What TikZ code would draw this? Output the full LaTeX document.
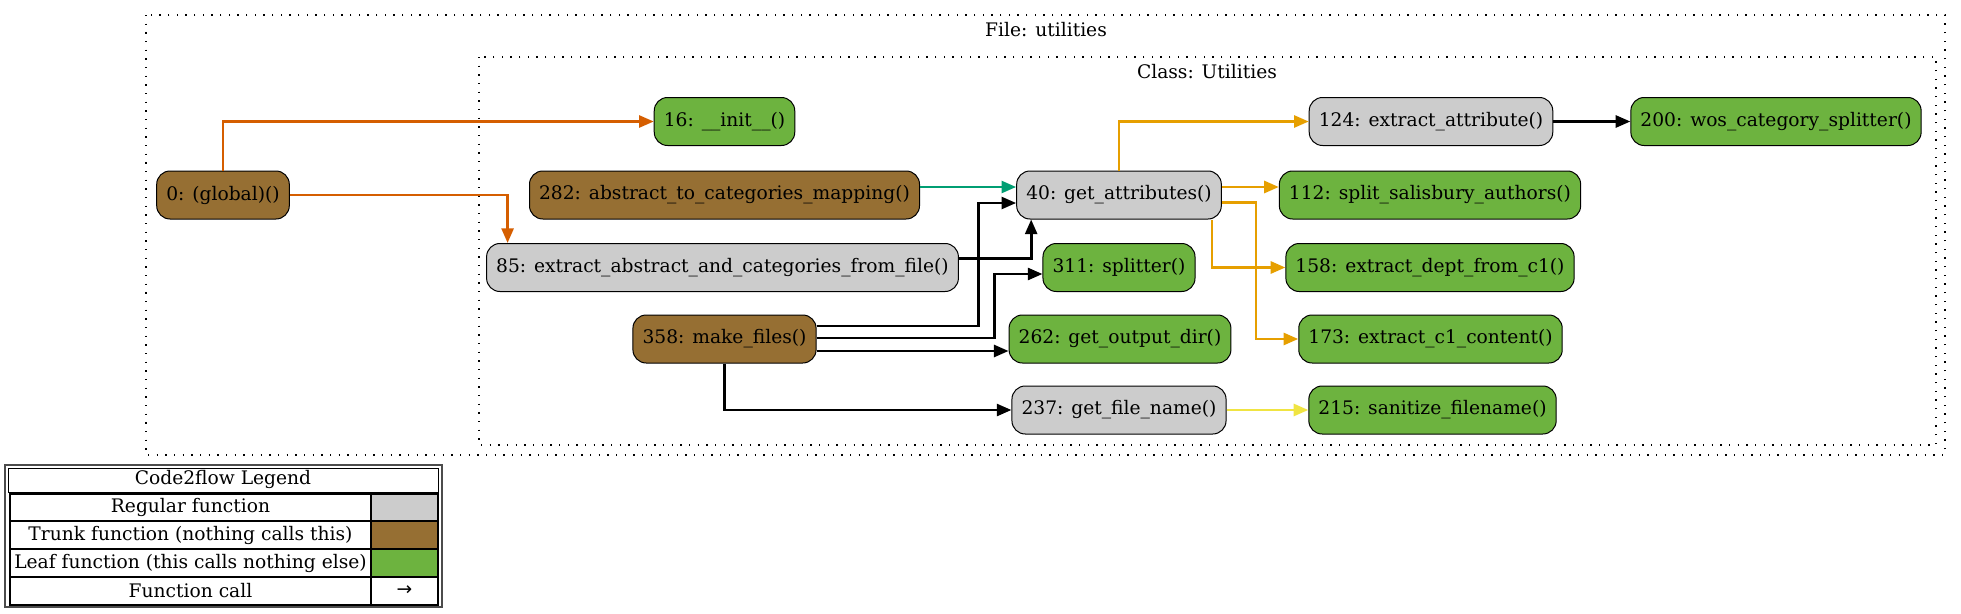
\documentclass[tikz,border=0pt]{standalone}
\usepackage{xcolor}
\usepackage{fontspec}
\setmainfont{DejaVu Serif}
\newfontfamily\arrowfont{DejaVu Sans}
\usepackage{tikz}
\usetikzlibrary{calc, arrows.meta}

\definecolor{regular}{HTML}{CCCCCC}
\definecolor{trunk}{HTML}{966F33}
\definecolor{leaf}{HTML}{6DB33F}
\definecolor{cOrange}{HTML}{D55E00}
\definecolor{cAmber}{HTML}{E69F00}
\definecolor{cGreen}{HTML}{009E73}
\definecolor{cYellow}{HTML}{F0E442}

\begin{document}
\begin{tikzpicture}[x=0.75pt, y=-0.75pt,
    font=\fontsize{14}{17}\selectfont,
    fn/.style={draw, line width=0.75pt, rounded corners=10pt, minimum height=36pt, inner xsep=7.2pt, inner ysep=0pt},
    reg/.style={fn, fill=regular},
    trk/.style={fn, fill=trunk},
    lf/.style={fn, fill=leaf},
    call/.style={line width=2pt, -{Triangle[length=11pt, width=9pt]}},
    cluster/.style={line width=1pt, dash pattern=on 1pt off 5.5pt}]
      \useasboundingbox (0,0) rectangle (1961,614);

      \draw[cluster] (146,15) rectangle (1945,455);
      \node (fl) at (1046,30) {File: utilities};
      \draw[cluster] (479,57) rectangle (1936,445);
      \node (cl) at (1207,72) {Class: Utilities};

      \node[trk] (G) at (223,195) {0: (global)()};
      \node[lf] (I) at (724.5,121.5) {16: \_\_init\_\_()};
      \node[trk] (M) at (724.5,195) {282: abstract\_to\_categories\_mapping()};
      \node[reg] (GA) at (1119,195) {40: get\_attributes()};
      \node[reg] (EA) at (1431,121.5) {124: extract\_attribute()};
      \node[lf] (W) at (1776,121.5) {200: wos\_category\_splitter()};
      \node[lf] (SA) at (1430,195) {112: split\_salisbury\_authors()};
      \node[reg] (EF) at (722.5,267.5) {85: extract\_abstract\_and\_categories\_from\_file()};
      \node[lf] (SP) at (1119,267.5) {311: splitter()};
      \node[lf] (ED) at (1430,267.5) {158: extract\_dept\_from\_c1()};
      \node[trk] (MF) at (724.5,339) {358: make\_files()};
      \node[lf] (OD) at (1120,339) {262: get\_output\_dir()};
      \node[lf] (EC) at (1430.5,339) {173: extract\_c1\_content()};
      \node[reg] (FN) at (1119,410) {237: get\_file\_name()};
      \node[lf] (SF) at (1432.5,410) {215: sanitize\_filename()};

      \draw[call, cOrange] (G.north) |- (I.west);
      \draw[call, cOrange] (G.east) -| ($(EF.north west)+(21.5,0)$);
      \draw[call, cGreen] ($(M.east)+(0,-8)$) -- ($(GA.west)+(0,-8)$);
      \draw[call] ($(EF.east)+(0,-9)$) -| ($(GA.south west)+(15,0)$);
      \draw[call] ($(MF.east)+(0,-13)$) -- ++(162,0) |- ($(GA.west)+(0,8)$);
      \draw[call] ($(MF.east)+(0,-1)$) -- ++(178,0) |- ($(SP.west)+(0,6.5)$);
      \draw[call] ($(MF.east)+(0,12)$) -- ($(OD.west)+(0,12)$);
      \draw[call] (MF.south) |- (FN.west);
      \draw[call, cAmber] (GA.north) |- (EA.west);
      \draw[call, cAmber] ($(GA.east)+(0,-8)$) -- ($(SA.west)+(0,-8)$);
      \draw[call, cAmber] ($(GA.south east)+(-10,0)$) |- (ED.west);
      \draw[call, cAmber] ($(GA.east)+(0,7.5)$) -- ++(34,0) |- (EC.west);
      \draw[call] (EA) -- (W);
      \draw[call, cYellow] (FN) -- (SF);

      \draw[line width=1.5pt, black!70] (5,465) rectangle (441.5,607);
      \draw[line width=0.75pt] (8,468) rectangle (438.5,492);
      \fill[regular] (371,493.5) rectangle (438,521);
      \fill[trunk] (371,521) rectangle (438,549);
      \fill[leaf] (371,549) rectangle (438,577);
      \draw[line width=1.5pt] (9.5,493.5) rectangle (438,605);
      \draw[line width=1pt] (9.5,521) -- (438,521) (9.5,549) -- (438,549)
        (9.5,577) -- (438,577) (371,493.5) -- (371,605);
      \node (lt) at (223,479) {Code2flow Legend};
      \node (lr) at (190.5,507) {Regular function};
      \node (lk) at (190.5,535) {Trunk function (nothing calls this)};
      \node (ll) at (190.5,563) {Leaf function (this calls nothing else)};
      \node (lc) at (190.5,591) {Function call};
      \node (la) at (404.5,591) {\arrowfont →};
    \end{tikzpicture}
\end{document}
